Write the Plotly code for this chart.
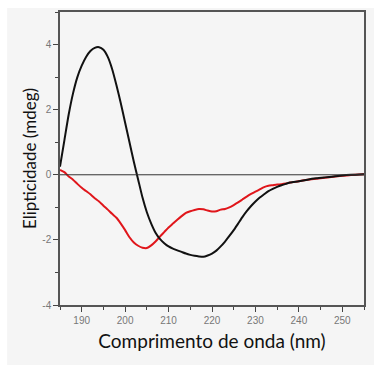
import plotly.graph_objects as go

# Wavelength (nm) and ellipticity (mdeg)
wl_black = [185, 186, 187, 188, 189, 190, 191, 192, 193, 194, 195, 196, 197, 198, 199,
            200, 201, 202, 203, 204, 205, 206, 207, 208, 209, 210, 211, 212, 213, 214,
            215, 216, 217, 218, 219, 220, 221, 222, 223, 224, 225, 226, 227, 228, 229,
            230, 231, 232, 233, 234, 235, 236, 237, 238, 240, 242, 244, 246, 248, 250,
            252, 255]
cd_black = [0.25, 1.05, 1.85, 2.5, 3.0, 3.35, 3.62, 3.8, 3.9, 3.92, 3.84, 3.62, 3.25, 2.75, 2.2,
            1.6, 1.0, 0.4, -0.15, -0.7, -1.15, -1.5, -1.78, -1.97, -2.1, -2.2, -2.27, -2.32, -2.37, -2.42,
            -2.46, -2.49, -2.51, -2.52, -2.48, -2.42, -2.33, -2.2, -2.05, -1.88, -1.7, -1.5, -1.3, -1.12, -0.96,
            -0.82, -0.7, -0.6, -0.5, -0.43, -0.37, -0.32, -0.28, -0.24, -0.2, -0.15, -0.11, -0.08, -0.05, -0.02,
            0.0, 0.02]

wl_red = [185, 186, 187, 188, 189, 190, 191, 192, 193, 194, 195, 196, 197, 198, 199,
          200, 201, 202, 203, 204, 205, 206, 207, 208, 209, 210, 211, 212, 213, 214,
          215, 216, 217, 218, 219, 220, 221, 222, 223, 224, 225, 226, 227, 228, 229,
          230, 231, 232, 233, 234, 235, 236, 237, 238, 240, 242, 244, 246, 248, 250,
          252, 255]
cd_red = [0.15, 0.08, -0.05, -0.15, -0.28, -0.4, -0.5, -0.6, -0.72, -0.82, -0.95, -1.07, -1.2, -1.32, -1.5,
          -1.7, -1.92, -2.08, -2.18, -2.24, -2.25, -2.17, -2.05, -1.9, -1.76, -1.62, -1.5, -1.38, -1.27, -1.17,
          -1.12, -1.08, -1.05, -1.06, -1.1, -1.13, -1.12, -1.07, -1.05, -1.0, -0.93, -0.85, -0.76, -0.67, -0.59,
          -0.52, -0.45, -0.38, -0.34, -0.32, -0.3, -0.29, -0.27, -0.24, -0.2, -0.15, -0.12, -0.09, -0.06, -0.03,
          -0.01, 0.02]

x_ticks = [190, 200, 210, 220, 230, 240, 250]
y_ticks = [-4, -2, 0, 2, 4]

fig = go.Figure()
fig.add_trace(go.Scatter(x=wl_red, y=cd_red, mode="lines",
                         line=dict(color="#e0161b", width=2, shape="spline", smoothing=0.6),
                         showlegend=False, hoverinfo="skip"))
fig.add_trace(go.Scatter(x=wl_black, y=cd_black, mode="lines",
                         line=dict(color="#111111", width=2, shape="spline", smoothing=0.6),
                         showlegend=False, hoverinfo="skip"))

# grey backdrop panel
fig.add_shape(type="rect", xref="paper", yref="paper",
              x0=-0.174, x1=1.033, y0=-0.21, y1=1.0137,
              fillcolor="#f5f5f5", line=dict(width=0), layer="below")
# zero line
fig.add_shape(type="line", xref="paper", yref="y", x0=0, x1=1, y0=0, y1=0,
              line=dict(color="#333333", width=1))

tick_font = dict(family="Liberation Sans, Arial", size=10, color="#777777")

fig.update_xaxes(range=[185, 255], tickvals=x_ticks, ticktext=[str(v) for v in x_ticks],
                 ticks="outside", ticklen=5, tickwidth=1, tickcolor="#444444",
                 minor=dict(dtick=5, tick0=185, ticks="outside", ticklen=3, tickcolor="#444444"),
                 showline=True, linecolor="#555555", linewidth=1.5, mirror=True,
                 showgrid=False, zeroline=False, tickfont=tick_font, automargin=False,
                 title=dict(text="Comprimento de onda (nm)",
                            font=dict(family="Lato, Open Sans, sans-serif", size=19, color="#111111"),
                            standoff=10))
fig.update_yaxes(range=[-4, 5], tickvals=y_ticks, ticktext=[str(v) for v in y_ticks],
                 ticks="outside", ticklen=5, tickwidth=1, tickcolor="#444444",
                 minor=dict(dtick=1, tick0=0, ticks="outside", ticklen=3, tickcolor="#444444"),
                 showline=True, linecolor="#555555", linewidth=1.5, mirror=True,
                 showgrid=False, zeroline=False, tickfont=tick_font, automargin=False,
                 title=dict(text="Elipticidade (mdeg)",
                            font=dict(family="Lato, Open Sans, sans-serif", size=17, color="#111111"),
                            standoff=1))

fig.update_layout(width=384, height=365,
                  margin=dict(l=60, r=20, t=12, b=60),
                  paper_bgcolor="white", plot_bgcolor="rgba(0,0,0,0)",
                  showlegend=False)

fig.write_html("out.html", config={"displayModeBar": False},
               post_script="document.body.style.margin='0';document.body.style.padding='0';")
